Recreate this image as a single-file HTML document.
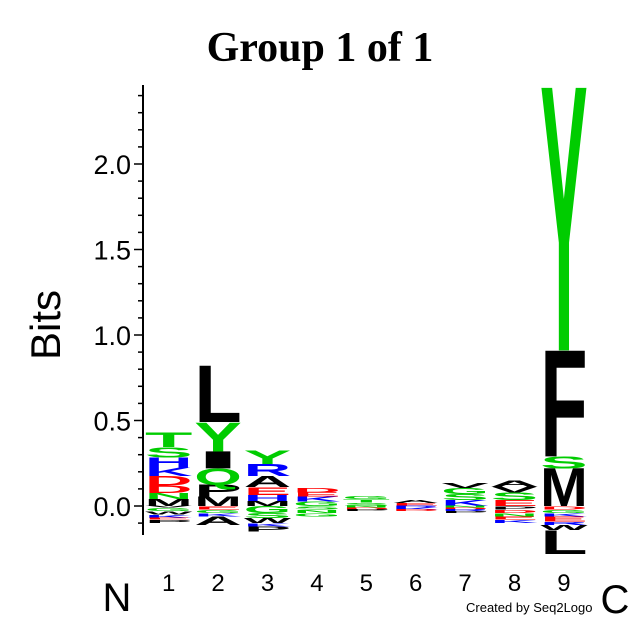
<!DOCTYPE html>
<html><head><meta charset="utf-8"><style>
html,body{margin:0;padding:0;background:#fff}
svg{display:block}
</style></head><body>
<svg id="chart" width="640" height="640" viewBox="0 0 640 640" xmlns="http://www.w3.org/2000/svg">
<text x="320" y="61" text-anchor="middle" font-family="Liberation Serif, serif" font-weight="bold" font-size="42">Group 1 of 1</text>
<text transform="translate(60,325) rotate(-90)" text-anchor="middle" font-family="Liberation Sans, sans-serif" font-size="42">Bits</text>
<text x="117" y="611" text-anchor="middle" font-family="Liberation Sans, sans-serif" font-size="40">N</text>
<text x="615" y="613" text-anchor="middle" font-family="Liberation Sans, sans-serif" font-size="40">C</text>
<text x="466" y="612" font-family="Liberation Sans, sans-serif" font-size="13">Created by Seq2Logo</text>
<g id="axis"></g>
<g id="marks"></g>
</svg>
<script>
const positions = ["1","2","3","4","5","6","7","8","9"];
const yTicks = [0.0, 0.5, 1.0, 1.5, 2.0];
const yTickLabels = ["0.0","0.5","1.0","1.5","2.0"];
// positive stacks, bottom to top: [letter, bits]
const posLetters = [
  ["M","N","D","D","K","H","S","T"],
  ["M","P","Q","I","Y","L"],
  ["M","H","E","A","R","Y"],
  ["G","K","E","D"],
  ["S","T","G"],
  ["E","A"],
  ["K","S","G","V"],
  ["E","S","V","A"],
  ["M","S","F","Y"]
];
const posBits = [
  [0.04,0.035,0.045,0.055,0.05,0.06,0.06,0.085],
  [0.055,0.07,0.095,0.1,0.17,0.33],
  [0.03,0.035,0.045,0.065,0.07,0.08],
  [0.025,0.03,0.025,0.025],
  [0.02,0.02,0.02],
  [0.018,0.018],
  [0.035,0.035,0.035,0.03],
  [0.035,0.045,0.035,0.035],
  [0.22,0.07,0.62,1.54]
];
const negLetters = [
  ["V","G","W","K","E","P"],
  ["E","G","K","A"],
  ["G","S","W","K","P"],
  ["S","N","G"],
  ["N","D","P"],
  ["R","K","D"],
  ["N","D","R","P"],
  ["P","D","N","E","K"],
  ["D","G","K","E","R","W","L"]
];
const negBits = [
  [0.01,0.02,0.02,0.02,0.01,0.02],
  [0.02,0.02,0.02,0.05],
  [0.04,0.03,0.03,0.02,0.03],
  [0.02,0.02,0.02],
  [0.01,0.01,0.01],
  [0.01,0.01,0.01],
  [0.01,0.01,0.01,0.01],
  [0.02,0.02,0.02,0.02,0.02],
  [0.02,0.02,0.02,0.03,0.02,0.03,0.14]
];
const colorOf = {A:"#000",L:"#000",V:"#000",I:"#000",P:"#000",M:"#000",F:"#000",W:"#000",
  G:"#00cc00",S:"#00cc00",T:"#00cc00",Y:"#00cc00",C:"#00cc00",Q:"#00cc00",N:"#00cc00",
  K:"#0000ff",R:"#0000ff",H:"#0000ff",D:"#ff0000",E:"#ff0000"};
const NS="http://www.w3.org/2000/svg";
const y0=506, pxPerBit=171, colW=49.4, x1=144;
const yScale = v => y0 - v*pxPerBit;
const xStart = i => x1 + i*colW;
const axis=document.getElementById('axis'), marks=document.getElementById('marks');
function mk(tag,attrs,parent){const e=document.createElementNS(NS,tag);for(const k in attrs)e.setAttribute(k,attrs[k]);parent.appendChild(e);return e;}
const ax=mk('line',{x1:143,x2:143,y1:85,y2:535,stroke:'#000','stroke-width':2},axis);


for(let v=-0.1; v<=2.45; v+=0.1){
  const vv=Math.round(v*10)/10;
  const major = Math.abs(vv*2-Math.round(vv*2))<1e-6;
  const t=mk('line',{x1:major?134:138,x2:143,y1:yScale(vv),y2:yScale(vv),stroke:'#000','stroke-width':1.5},axis);
  
  
}
yTicks.forEach((v,i)=>{
  const t=mk('text',{x:131,y:yScale(v)+10,'text-anchor':'end','font-family':'Liberation Sans, sans-serif','font-size':27},axis);
  t.textContent=yTickLabels[i];
  
  
});
positions.forEach((p,i)=>{
  const t=mk('text',{x:xStart(i)+colW/2,y:591,'text-anchor':'middle','font-family':'Liberation Sans, sans-serif','font-size':24},axis);
  t.textContent=p;
  
  
});
function letter(ch,x,yb,w,h){
  if(h<=0)return;
  const g=mk('g',{transform:`translate(${x},${yb}) scale(${w/100},${h/69})`},marks);
  const t=mk('text',{x:0,y:0,'font-family':'Liberation Sans, sans-serif','font-weight':'bold','font-size':100,textLength:100,lengthAdjust:'spacingAndGlyphs',fill:colorOf[ch]||'#000'},g);
  t.textContent=ch;
  
  
}
positions.forEach((p,i)=>{
  const x=xStart(i)+1, w=colW-2;
  let cum=0;
  posLetters[i].forEach((ch,j)=>{const b=posBits[i][j];letter(ch,x,yScale(cum),w,b*pxPerBit);cum+=b;});
  cum=0;
  negLetters[i].forEach((ch,j)=>{const b=negBits[i][j];letter(ch,x,yScale(cum-b),w,b*pxPerBit);cum-=b;});
});
</script>
</body></html>
